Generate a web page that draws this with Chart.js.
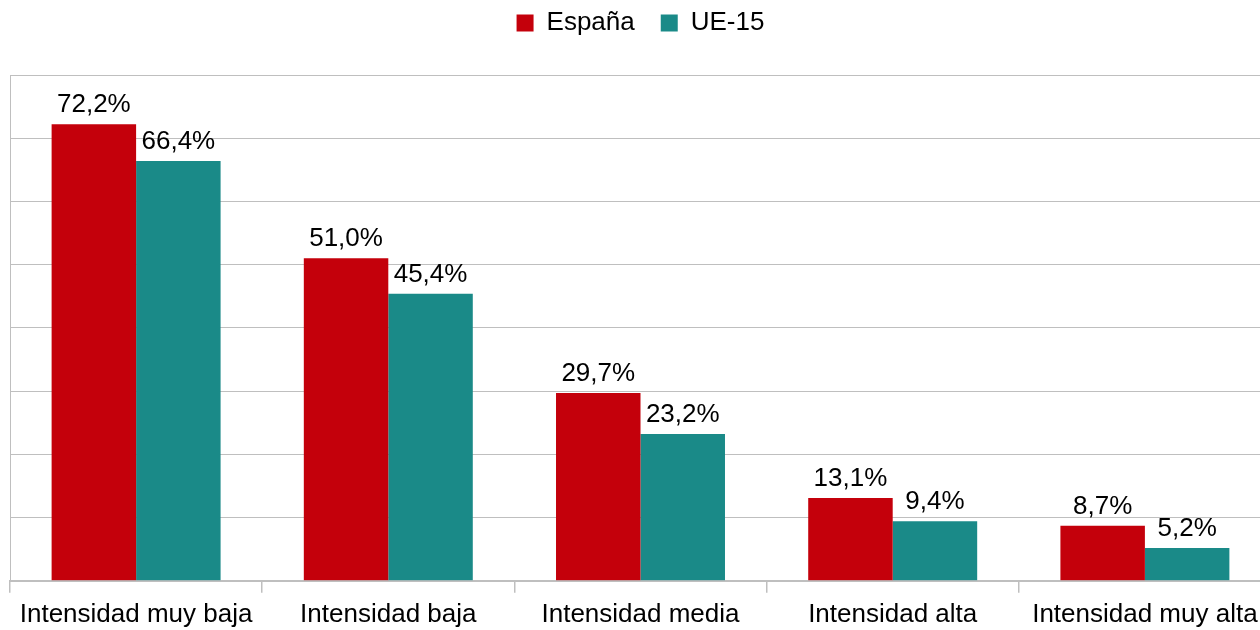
<!DOCTYPE html>
<html>
<head>
<meta charset="utf-8">
<script src="https://cdn.jsdelivr.net/npm/chart.js@4/dist/chart.umd.min.js"></script>
<style>
html,body{margin:0;padding:0;background:#fff;overflow:hidden;width:1260px;height:630px;}
#wrap{width:1271px;height:630px;}
</style>
</head>
<body>
<div id="wrap"><canvas id="c" width="1271" height="630"></canvas></div>
<script>
const categories = ["Intensidad muy baja", "Intensidad baja", "Intensidad media", "Intensidad alta", "Intensidad muy alta"];
const espana = [72.2, 51.0, 29.7, 13.1, 8.7];
const ue15 = [66.4, 45.4, 23.2, 9.4, 5.2];
const seriesNames = ["España", "UE-15"];
const yMin = 0, yMax = 80, yStep = 10;

const FONT = "'Liberation Sans', Arial, sans-serif";
const GRID = '#BFBFBF';

const fmt = v => v.toFixed(1).replace('.', ',') + '%';

const dataLabels = {
  id: 'dataLabels',
  afterDatasetsDraw(chart) {
    const ctx = chart.ctx;
    ctx.save();
    ctx.font = '26px ' + FONT;
    ctx.fillStyle = '#000';
    ctx.textAlign = 'center';
    ctx.textBaseline = 'alphabetic';
    chart.data.datasets.forEach((ds, i) => {
      const meta = chart.getDatasetMeta(i);
      meta.data.forEach((el, j) => {
        ctx.fillText(fmt(ds.data[j]), el.x, el.y - 12);
      });
    });
    ctx.restore();
  }
};

const legendGap = {
  id: 'legendGap',
  beforeInit(chart) {
    const orig = chart.legend.fit;
    chart.legend.fit = function () {
      orig.bind(chart.legend)();
      this.height += 29;
    };
  }
};

new Chart(document.getElementById('c'), {
  type: 'bar',
  data: {
    labels: categories,
    datasets: [
      { label: seriesNames[0], data: espana, backgroundColor: '#C4000B', borderWidth: 0 },
      { label: seriesNames[1], data: ue15, backgroundColor: '#1A8A88', borderWidth: 0 }
    ]
  },
  options: {
    responsive: false,
    animation: false,
    devicePixelRatio: 1,
    layout: { padding: { top: -16, left: 10, right: 0, bottom: -6 } },
    datasets: { bar: { categoryPercentage: 0.67, barPercentage: 1.0 } },
    plugins: {
      legend: {
        display: true,
        position: 'top',
        align: 'center',
        labels: {
          font: { family: FONT, size: 26 },
          color: '#000',
          boxWidth: 17,
          boxHeight: 17,
          padding: 26
        }
      },
      tooltip: { enabled: false },
      title: { display: false }
    },
    scales: {
      x: {
        grid: { display: true, drawOnChartArea: false, drawTicks: true, tickLength: 12, color: GRID, lineWidth: 1.5, offset: true },
        border: { display: true, color: GRID, width: 2 },
        ticks: { font: { family: FONT, size: 26 }, color: '#000', padding: 6, maxRotation: 0, autoSkip: false }
      },
      y: {
        min: yMin, max: yMax,
        ticks: { display: false, stepSize: yStep },
        grid: { color: GRID, lineWidth: 1, drawTicks: false },
        border: { display: true, color: GRID, width: 1 }
      }
    }
  },
  plugins: [legendGap, dataLabels]
});
</script>
</body>
</html>
